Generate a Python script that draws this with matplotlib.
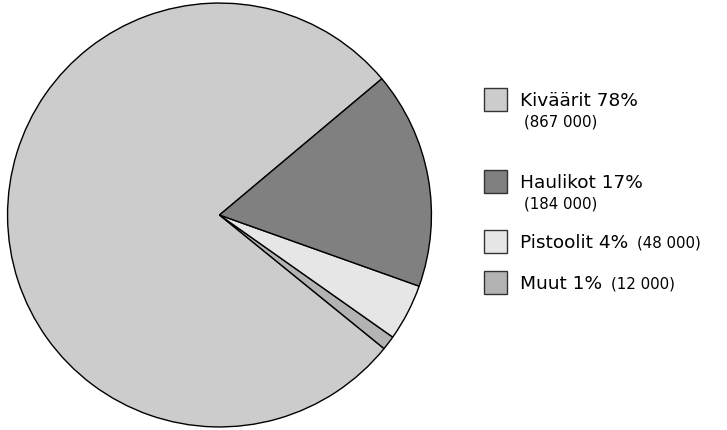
import matplotlib
import matplotlib.pyplot as plt
from matplotlib.patches import Rectangle

matplotlib.use('agg')

# data, counterclockwise order from 40 degrees
labels = ["Kiväärit", "Muut", "Pistoolit", "Haulikot"]
counts = [867000, 12000, 48000, 184000]
colors = ["#cccccc", "#b3b3b3", "#e6e6e6", "#808080"]

# legend entries (top to bottom)
leg_names = ["Kiväärit 78%", "Haulikot 17%", "Pistoolit 4%", "Muut 1%"]
leg_counts = ["(867 000)", "(184 000)", "(48 000)", "(12 000)"]
leg_colors = ["#cccccc", "#808080", "#e6e6e6", "#b3b3b3"]

W, H = 727, 431
fig = plt.figure(figsize=(W / 100, H / 100), dpi=100)

cx, cy, r = 219.5, 216, 213
ax = fig.add_axes([(cx - r) / W, (H - cy - r) / H, 2 * r / W, 2 * r / H])
ax.pie(counts, colors=colors, startangle=40, counterclock=True, radius=1,
       wedgeprops=dict(edgecolor="black", linewidth=1.0))
ax.set_xlim(-1.005, 1.005)
ax.set_ylim(-1.005, 1.005)
ax.set_aspect("equal")
ax.axis("off")

# legend drawn by hand, pixel positions from top
box_top = [89, 171, 231, 272]
for i in range(4):
    y0 = box_top[i]
    fig.patches.append(Rectangle((484 / W, (H - y0 - 23) / H), 23 / W, 23 / H,
                                 transform=fig.transFigure, facecolor=leg_colors[i],
                                 edgecolor="#333333", linewidth=1.0))
    ty = (H - y0 - 12) / H
    t = fig.text(520 / W, ty, leg_names[i], fontsize=13.3, va="center", ha="left")
    if i < 2:
        fig.text(524 / W, (H - y0 - 33) / H, leg_counts[i], fontsize=10.8, va="center", ha="left")
    else:
        fig.canvas.draw()
        bb = t.get_window_extent()
        fig.text((bb.x1 + 9) / W, ty, leg_counts[i], fontsize=10.8, va="center", ha="left")

fig.savefig("out.png", dpi=100)
